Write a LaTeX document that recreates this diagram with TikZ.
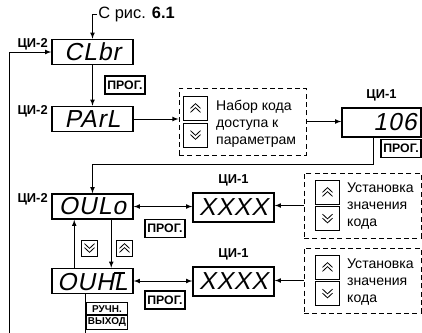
\documentclass[tikz,border=0pt]{standalone}
\usepackage{fontspec}
\setmainfont{Liberation Sans}
\newfontfamily\dispfont{Liberation Sans}[FakeSlant=0.2, LetterSpace=4]
\usetikzlibrary{arrows, positioning, shapes.multipart}
\newcommand\topbar{\makebox[0pt][l]{\raisebox{0.66em}{\rule{0.45em}{0.09em}}}}

\begin{document}
\begin{tikzpicture}[
  x=0.3mm, y=-0.3mm,
  disp/.style={draw, line width=1.3pt, inner sep=0pt, minimum width=24.3mm, minimum height=7.5mm, font=\dispfont\fontsize{21}{21}\selectfont},
  ind/.style={disp, minimum height=8.7mm},
  lbl/.style={font=\bfseries\fontsize{11}{12}\selectfont, inner sep=0pt},
  key/.style={draw, line width=1pt, inner sep=0pt, minimum width=12mm, minimum height=5.4mm, font=\bfseries\fontsize{10.5}{11}\selectfont},
  dbox/.style={draw, line width=0.8pt, dash pattern=on 1.5mm off 1mm, inner sep=0pt},
  txt/.style={align=left, inner sep=0pt, font=\fontsize{12}{14.5}\selectfont},
  btn/.style={draw, line width=0.8pt, inner sep=0pt, minimum size=7.2mm},
  upkey/.style={btn, path picture={\foreach \dy in {-1.3mm,-0.1mm} \draw[line width=0.7pt, shift={(path picture bounding box.center)}, scale=#1] (-1.5mm,\dy) -- ++(1.5mm,1.4mm) -- ++(1.5mm,-1.4mm);}},
  upkey/.default=1,
  dnkey/.style={btn, path picture={\foreach \dy in {1.3mm,0.1mm} \draw[line width=0.7pt, shift={(path picture bounding box.center)}, scale=#1] (-1.5mm,\dy) -- ++(1.5mm,-1.4mm) -- ++(1.5mm,1.4mm);}},
  dnkey/.default=1,
  flow/.style={-latex, line width=0.8pt},
  dflow/.style={latex-latex, line width=0.8pt}
]
\clip (0,0) rectangle (422,332);

\node[anchor=west, inner sep=1pt, font=\fontsize{14}{15}\selectfont] (ref) at (97,14) {С рис. \textbf{6.1}};
\node[disp] (clbr) at (92.5,52) {CLbr};
\node[lbl, anchor=north east] at ([xshift=-1mm]clbr.north west) {ЦИ-2};
\node[key] (prog1) at (125,85) {ПРОГ.};
\node[disp] (parl) at (92.5,119) {PArL};
\node[lbl, anchor=north east] at ([xshift=-1mm]parl.north west) {ЦИ-2};

% code entry
\node[dbox, minimum width=38.1mm, minimum height=20.1mm] (code) at (242.5,121.5) {};
\node[upkey] (codeup) at (195.5,108) {};
\node[dnkey] (codedn) at (195.5,135) {};
\node[txt, anchor=west] (codetxt) at (216,124) {Набор кода\\доступа к\\параметрам};
\node[ind, minimum width=23.7mm, text width=21mm, align=right] (val) at (381.5,122.5) {106};
\node[lbl, above=1.8mm of val] (vallbl) {ЦИ-1};
\node[key] (prog2) at (401,148.5) {ПРОГ.};
\coordinate (drop) at (373,164);

% lower limit
\node[disp] (oulo) at (92.5,206.5) {OULo};
\node[lbl, anchor=north east] at ([xshift=-1mm]oulo.north west) {ЦИ-2};
\node[ind] (xa) at (233.5,207.5) {XXXX};
\node[lbl, above=1.8mm of xa] (xalbl) {ЦИ-1};
\node[key] (prog3) at (165,228.5) {ПРОГ.};
\node[dbox, minimum width=35.1mm, minimum height=19.5mm] (seta) at (362.5,205.5) {};
\node[upkey] (setaup) at (327.5,192) {};
\node[dnkey] (setadn) at (327.5,218.5) {};
\node[txt, anchor=west] (setatxt) at (347,206) {Установка\\значения\\кода};

\node[dnkey=0.65, minimum size=4.8mm] (keydn) at (89.5,248) {};
\node[upkey=0.65, minimum size=4.8mm] (keyup) at (124.5,248) {};

% upper limit
\node[disp] (ouhl) at (92.5,281) {OUH\topbar L};
\node[ind] (xb) at (233.5,281.5) {XXXX};
\node[lbl, above=1.8mm of xb] (xblbl) {ЦИ-1};
\node[key] (prog4) at (165,300) {ПРОГ.};
\node[dbox, minimum width=35.1mm, minimum height=19.5mm] (setb) at (362.5,280.5) {};
\node[upkey] (setbup) at (327.5,267) {};
\node[dnkey] (setbdn) at (327.5,293.5) {};
\node[txt, anchor=west] (setbtxt) at (347,282) {Установка\\значения\\кода};
\node[draw, line width=1pt, rectangle split, rectangle split parts=2, inner xsep=1pt, inner ysep=1.8pt, font=\bfseries\fontsize{8.5}{9}\selectfont, anchor=north] (manual) at (107,302) {РУЧН.\nodepart{two}ВЫХОД};
\coordinate (exit) at (85,345);
\coordinate (back) at (9,345);

\draw[flow] (ref.west) -| (clbr.north);
\draw[flow] (clbr) -- (parl);
\draw[flow] (parl.east) -- (parl.east -| code.west);
\draw[flow] (code.east) -- (code.east -| val.west);
\draw[flow] (val.south -| drop) -- (drop) -| (oulo.north);
\draw[dflow] (oulo.east) -- (oulo.east -| xa.west);
\draw[flow] (seta.west) -- (seta.west -| xa.east);
\draw[flow] ([xshift=6.9mm]ouhl.north west) -- ([xshift=6.9mm]oulo.south west);
\draw[flow] ([xshift=18mm]oulo.south west) -- ([xshift=18mm]ouhl.north west);
\draw[dflow] (ouhl.east) -- (ouhl.east -| xb.west);
\draw[flow] (setb.west) -- (setb.west -| xb.east);
\draw[flow] (ouhl.south -| exit) -- (exit) -- (back) |- (clbr.west);
\end{tikzpicture}
\end{document}
